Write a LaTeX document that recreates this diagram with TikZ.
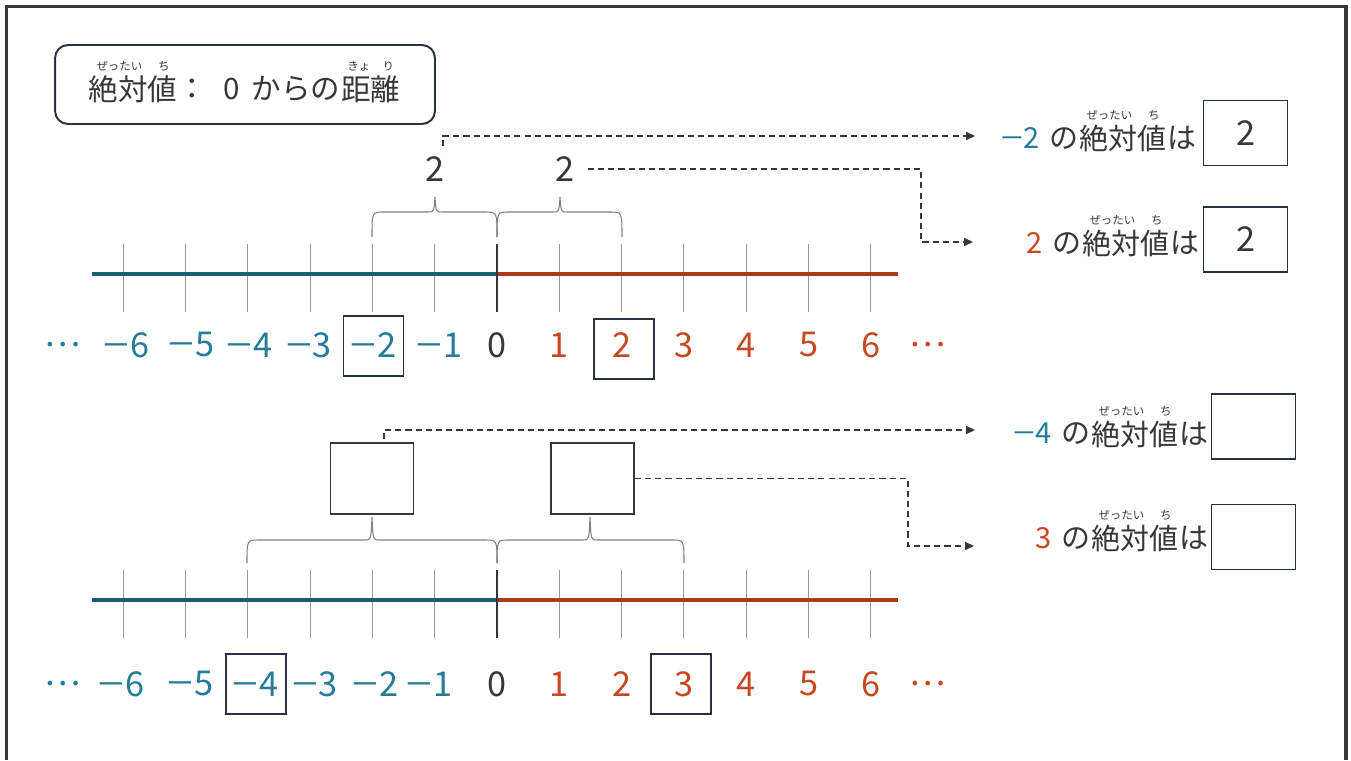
\documentclass[tikz,border=0pt]{standalone}
\usepackage{fontspec}
\usepackage{graphicx}
\setmainfont{Noto Sans CJK JP}
\usetikzlibrary{positioning,arrows.meta}
\definecolor{blue}{RGB}{36,124,153}
\definecolor{red}{RGB}{200,70,32}
\definecolor{ink}{RGB}{55,55,55}
\definecolor{navy}{RGB}{38,50,66}
\newcommand\mns{\scalebox{1.35}[1]{−}\hspace{0.03em}}
\tikzset{
  num/.style={inner sep=0pt,font=\fontsize{19.5}{23}\selectfont},
  phrase/.style={inner sep=0pt,font=\fontsize{16.5}{20}\selectfont,text=ink},
  ruby/.style={inner sep=0pt,font=\fontsize{6.5}{8}\selectfont,text=ink},
  ansbox/.style={draw=navy,line width=1.1pt,minimum width=1.68cm,minimum height=1.3cm,
    inner sep=0pt,font=\fontsize{19.5}{23}\selectfont,text=ink},
  numbox/.style={draw=navy,line width=0.9pt,minimum width=1.2cm,minimum height=1.2cm},
  qbox/.style={draw=ink,line width=1pt,minimum width=1.66cm,minimum height=1.42cm},
  dlink/.style={ink,dash pattern=on 3.5pt off 2.3pt,line width=0.8pt,
    -{Triangle[length=5pt,width=4.5pt]}},
  brace/.style={gray,line width=0.6pt},
}
\begin{document}
\begin{tikzpicture}[x=0.02cm,y=-0.02cm]
  \useasboundingbox (0,0) rectangle (1351,760);
  % frame
  \draw[ink,line width=1.9pt] (6.7,760) -- (6.7,6.7) -- (1346,6.7) -- (1346,760);

  % title
  \node[draw=navy,line width=1.1pt,rounded corners=0.26cm,minimum width=7.6cm,
    minimum height=1.58cm] (title) at (245,84.5) {};
  \node[phrase,font=\fontsize{16.8}{20}\selectfont] (t1) at (133,89) {絶対値};
  \node[phrase,font=\fontsize{16.8}{20}\selectfont,right=0pt of t1] (t2)
    {：\hspace{0.55em}0\hspace{0.4em}からの};
  \node[phrase,font=\fontsize{16.8}{20}\selectfont,right=0pt of t2] (t3) {距離};
  \node[ruby,above=2pt of t1] (rt1) {ぜったい\hspace{9pt}ち};
  \node[ruby,above=2pt of t3] (rt3) {きょ\hspace{7pt}り};

  % number lines
  \foreach \y in {274,600} {
    \foreach \k in {-6,...,6}
      \draw[gray!80,line width=0.6pt] (497+62.3*\k,\y-30) -- (497+62.3*\k,\y+38);
    \draw[blue!75!black,line width=2.3pt] (92,\y) -- (497,\y);
    \draw[red!85!black,line width=2.3pt] (497,\y) -- (898,\y);
    \draw[ink,line width=1.4pt] (497,\y-30) -- (497,\y+38);
  }

  % numbers
  \foreach \y/\row in {345/a,684/b} {
    \node[num,text=ink] (\row0) at (497,\y) {0};
    \foreach \k in {1,...,6}
      \node[num,text=red] (\row p\k) at (497+62.3*\k,\y) {\k};
    \node[num,text=blue] (\row l) at (63,\y) {…};
    \node[num,text=red] (\row r) at (928,\y) {…};
  }
  \foreach \k/\da/\db in {1/5/-5,2/1/3,3/-1/5,4/2/8,5/6/5,6/3/-2} {
    \node[num,text=blue] (am\k) at (497-62.3*\k+\da,345) {\mns\k};
    \node[num,text=blue] (bm\k) at (497-62.3*\k+\db,684) {\mns\k};
  }
  \node[numbox] (boxa1) at (373.5,346) {};
  \node[numbox] (boxa2) at (624,349) {};
  \node[numbox] (boxb1) at (256,684) {};
  \node[numbox] (boxb2) at (681,684) {};

  % braces
  \foreach \l/\r/\m/\h/\t/\b in {372/497/435/212/197/237, 497/622/560/212/197/237,
      247/497/372/540/517/563, 497/684/590/540/517/563}
    \draw[brace] (\l,\b) .. controls (\l,\h) .. (\l+12,\h) -- (\m-7,\h)
      .. controls (\m-1,\h) .. (\m,\t) .. controls (\m+1,\h) .. (\m+7,\h)
      -- (\r-12,\h) .. controls (\r,\h) .. (\r,\b);

  \node[num,text=ink] (da) at (435,169) {2};
  \node[num,text=ink] (db) at (565,169) {2};
  \node[qbox] (lb) at (372,478.5) {};
  \node[qbox] (rb) at (592.5,478.5) {};

  % phrases
  \foreach \n/\x/\y/\v/\c in {1/1123/138/\mns2/blue, 2/1126/243/2/red,
      3/1135/434/\mns4/blue, 4/1135/538/3/red} {
    \node[phrase] (k\n) at (\x,\y) {絶対値};
    \node[phrase,left=0pt of k\n] (v\n) {\textcolor{\c}{\v}\hspace{0.35em}の};
    \node[phrase,right=0pt of k\n] (w\n) {は};
    \node[ruby,above=2pt of k\n] (r\n) {ぜったい\hspace{9pt}ち};
  }
  \node[ansbox] (ans1) at (1245.5,133) {2};
  \node[ansbox] (ans2) at (1245.5,239.5) {2};
  \node[ansbox] (ans3) at (1253.5,426.5) {};
  \node[ansbox] (ans4) at (1253.5,537) {};

  % connectors
  \coordinate (e1) at (975,136);
  \coordinate (e2) at (973,242);
  \coordinate (e3) at (975,430);
  \coordinate (e4) at (974,546);
  \draw[dlink] ([xshift=0.16cm,yshift=0.2cm]da.north) |- (e1);
  \draw[dlink] ([xshift=0.26cm]db.east) -- (921,169) |- (e2);
  \draw[dlink] ([xshift=0.24cm,yshift=0.06cm]lb.north) |- (e3);
  \draw[dlink] (rb.east) -- (908,478.5) |- (e4);
\end{tikzpicture}
\end{document}
